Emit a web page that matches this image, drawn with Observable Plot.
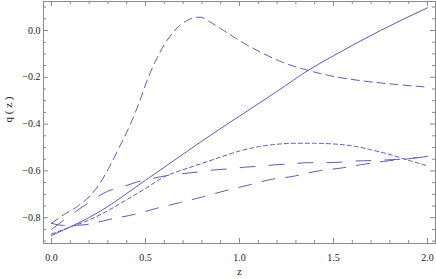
<!DOCTYPE html>
<html><head><meta charset="utf-8">
<script src="https://cdn.jsdelivr.net/npm/d3@7"></script>
<script src="https://cdn.jsdelivr.net/npm/@observablehq/plot@0.6"></script>
<style>
body{margin:0;background:#fff}
#chart svg, #chart svg text { font-family: "Liberation Serif", "DejaVu Serif", serif !important; }
</style>
</head><body><div id="chart"></div>
<script>
const solidZ = [0, 0.26, 0.5, 0.89, 1.0, 1.2, 1.378, 1.5, 1.75, 2.0];
const solidQ = [-0.876, -0.772, -0.64, -0.424, -0.366, -0.26, -0.164, -0.108, 0.0, 0.097];

const peakZ = [0, 0.07, 0.137, 0.207, 0.26, 0.31, 0.36, 0.42, 0.47, 0.515, 0.56, 0.6, 0.64, 0.68, 0.72, 0.76, 0.79, 0.84, 0.9, 0.97, 1.04, 1.13, 1.22, 1.34, 1.48, 1.66, 1.84, 2.0];
const peakQ = [-0.824, -0.785, -0.752, -0.705, -0.65, -0.58, -0.5, -0.4, -0.3, -0.2, -0.12, -0.06, -0.015, 0.02, 0.042, 0.055, 0.057, 0.038, 0.008, -0.028, -0.062, -0.1, -0.133, -0.165, -0.193, -0.216, -0.231, -0.242];

const shortZ = [0, 0.1, 0.2, 0.3, 0.4, 0.5, 0.6, 0.7, 0.8, 0.9, 1.0, 1.1, 1.2, 1.3, 1.4, 1.5, 1.6, 1.7, 1.8, 1.9, 2.0];
const shortQ = [-0.87, -0.84, -0.81, -0.77, -0.723, -0.675, -0.625, -0.595, -0.568, -0.541, -0.515, -0.497, -0.486, -0.482, -0.482, -0.485, -0.493, -0.51, -0.53, -0.555, -0.578];

const longAZ = [0, 0.1, 0.2, 0.296, 0.376, 0.452, 0.527, 0.615, 0.695, 0.775, 0.862, 0.95, 1.03, 1.11, 1.19, 1.28, 1.36, 1.45, 1.53, 1.61, 1.7, 1.78, 1.86, 1.945, 2.0];
const longAQ = [-0.85, -0.79, -0.735, -0.688, -0.669, -0.648, -0.634, -0.62, -0.612, -0.605, -0.596, -0.591, -0.584, -0.58, -0.574, -0.57, -0.565, -0.565, -0.563, -0.558, -0.556, -0.553, -0.55, -0.544, -0.538];

const longBZ = [0, 0.065, 0.15, 0.25, 0.3, 0.44, 0.55, 0.68, 0.8, 0.9, 1.04, 1.165, 1.28, 1.42, 1.54, 1.65, 1.78, 1.9, 2.0];
const longBQ = [-0.824, -0.833, -0.832, -0.819, -0.809, -0.786, -0.762, -0.736, -0.712, -0.69, -0.662, -0.637, -0.624, -0.6, -0.588, -0.573, -0.558, -0.548, -0.536];

const xMajor = [0, 0.5, 1.0, 1.5, 2.0];
const xMinor = d3.range(1, 20).map(i => i / 10).filter(v => Math.abs(v * 2 - Math.round(v * 2)) > 1e-9);
const yMajor = [-0.8, -0.6, -0.4, -0.2, 0.0];
const yMinor = d3.range(-18, 3).map(i => i / 20).filter(v => Math.abs(v * 5 - Math.round(v * 5)) > 1e-9);

const mk = (zs, qs) => zs.map((z, i) => ({z, q: qs[i]}));
const color = "#5c5cb6";
const W = 436, H = 279, mL = 43, mR = 1, mT = 1, mB = 36;
const iw = W - mL - mR, ih = H - mT - mB;
const fmt = v => (v < 0 ? "\u2212" : "") + Math.abs(v).toFixed(1);
const frameC = "#8a8a8a";
const serif = "Liberation Serif";

const chart = Plot.plot({
  width: W, height: H,
  marginLeft: mL, marginRight: mR, marginTop: mT, marginBottom: mB,
  x: {domain: [-0.0426, 2.0426]},
  y: {domain: [-0.9103, 0.1239]},
  style: {fontFamily: serif, fontSize: "10px", color: "#333"},
  marks: [
    Plot.frame({stroke: frameC, strokeWidth: 1}),
    Plot.tickX(xMajor, {x: d => d, stroke: frameC, insetTop: ih - 5}),
    Plot.tickX(xMajor, {x: d => d, stroke: frameC, insetBottom: ih - 5}),
    Plot.tickX(xMinor, {x: d => d, stroke: frameC, insetTop: ih - 3}),
    Plot.tickX(xMinor, {x: d => d, stroke: frameC, insetBottom: ih - 3}),
    Plot.tickY(yMajor, {y: d => d, stroke: frameC, insetRight: iw - 5}),
    Plot.tickY(yMajor, {y: d => d, stroke: frameC, insetLeft: iw - 5}),
    Plot.tickY(yMinor, {y: d => d, stroke: frameC, insetRight: iw - 3}),
    Plot.tickY(yMinor, {y: d => d, stroke: frameC, insetLeft: iw - 3}),
    Plot.axisX(xMajor, {tickSize: 0, tickPadding: 10, tickFormat: d => d.toFixed(1), fill: "#222", fontSize: 10, fontFamily: serif, label: null}),
    Plot.axisY(yMajor, {tickSize: 0, tickPadding: 3, tickFormat: fmt, fill: "#222", fontSize: 10, fontFamily: serif, label: null}),
    Plot.text(["z"], {frameAnchor: "bottom", dy: 31, fill: "#222", fontSize: 11, fontFamily: serif}),
    Plot.text(["q ( z )"], {frameAnchor: "left", dx: -35, rotate: -90, fill: "#222", fontSize: 11, fontFamily: serif}),
    Plot.line(mk(solidZ, solidQ), {x: "z", y: "q", stroke: color, strokeWidth: 1, curve: "monotone-x"}),
    Plot.line(mk(peakZ, peakQ), {x: "z", y: "q", stroke: color, strokeWidth: 1, curve: "monotone-x", strokeDasharray: "8,5"}),
    Plot.line(mk(shortZ, shortQ), {x: "z", y: "q", stroke: color, strokeWidth: 1, curve: "monotone-x", strokeDasharray: "4,3"}),
    Plot.line(mk(longAZ, longAQ), {x: "z", y: "q", stroke: color, strokeWidth: 1, curve: "monotone-x", strokeDasharray: "15,14"}),
    Plot.line(mk(longBZ, longBQ), {x: "z", y: "q", stroke: color, strokeWidth: 1, curve: "monotone-x", strokeDasharray: "13,11"})
  ]
});
document.getElementById("chart").appendChild(chart);
</script>
</body></html>
